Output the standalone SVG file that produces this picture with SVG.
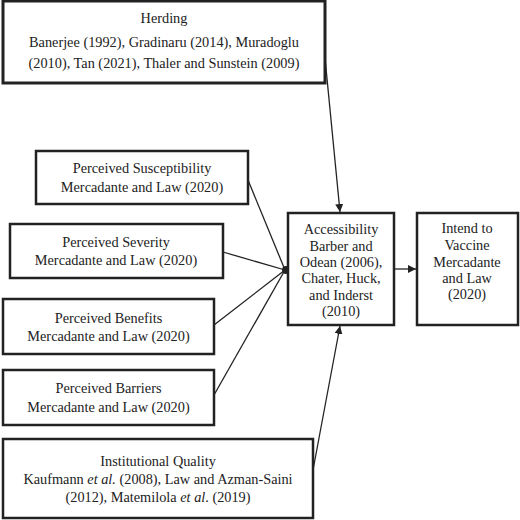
<svg xmlns="http://www.w3.org/2000/svg" width="520" height="520" viewBox="0 0 520 520">
<style>
.box{fill:#fff;stroke:#222;stroke-width:2.5}
text{font-size:14.3px;fill:#222;text-anchor:middle}
.ln{stroke:#222;stroke-width:1.3;fill:none}
</style>
<defs>
<marker id="ah" viewBox="0 0 10 10" refX="10" refY="5" markerWidth="8" markerHeight="8" markerUnits="userSpaceOnUse" orient="auto">
<path d="M0,0 L10,5 L0,10 z" fill="#222"/>
</marker>
</defs>
<rect width="520" height="520" fill="#fff"/>
<g id="connectors">
<line class="ln" x1="325" y1="58" x2="340" y2="212" marker-end="url(#ah)"/>
<line class="ln" x1="248" y1="180" x2="285" y2="270"/>
<line class="ln" x1="223" y1="252" x2="285" y2="270"/>
<line class="ln" x1="214" y1="325" x2="285" y2="270"/>
<line class="ln" x1="214" y1="395" x2="285" y2="270"/>
<circle cx="286" cy="270" r="4" fill="#222"/>
<line class="ln" x1="395" y1="269" x2="416" y2="269" marker-end="url(#ah)"/>
<line class="ln" x1="313" y1="470" x2="340" y2="326" marker-end="url(#ah)"/>
</g>
<g font-family="'Liberation Serif', 'Times New Roman', 'DejaVu Serif', serif">
<g id="herding">
<rect class="box" x="3" y="1" width="322" height="82" style="stroke-width:3"/>
<text x="164" y="23">Herding</text>
<text x="164" y="47">Banerjee (1992), Gradinaru (2014), Muradoglu</text>
<text x="164" y="68">(2010), Tan (2021), Thaler and Sunstein (2009)</text>
</g>
<g id="susceptibility">
<rect class="box" x="36" y="151" width="212" height="53"/>
<text x="142" y="173">Perceived Susceptibility</text>
<text x="142" y="192">Mercadante and Law (2020)</text>
</g>
<g id="severity">
<rect class="box" x="10" y="224" width="213" height="54"/>
<text x="116" y="247">Perceived Severity</text>
<text x="116" y="265">Mercadante and Law (2020)</text>
</g>
<g id="benefits">
<rect class="box" x="3" y="299" width="211" height="55"/>
<text x="108.5" y="323">Perceived Benefits</text>
<text x="108.5" y="341">Mercadante and Law (2020)</text>
</g>
<g id="barriers">
<rect class="box" x="3" y="370" width="211" height="55"/>
<text x="108.5" y="393">Perceived Barriers</text>
<text x="108.5" y="412">Mercadante and Law (2020)</text>
</g>
<g id="institutional">
<rect class="box" x="3" y="439" width="310" height="79"/>
<text x="158" y="466">Institutional Quality</text>
<text x="158" y="484">Kaufmann <tspan font-style="italic">et al.</tspan> (2008), Law and Azman-Saini</text>
<text x="158" y="502">(2012), Matemilola <tspan font-style="italic">et al</tspan>. (2019)</text>
</g>
<g id="accessibility">
<rect class="box" x="288" y="213" width="106" height="112"/>
<text x="341" y="234">Accessibility</text>
<text x="341" y="251">Barber and</text>
<text x="341" y="267">Odean (2006),</text>
<text x="341" y="283">Chater, Huck,</text>
<text x="341" y="300">and Inderst</text>
<text x="341" y="316">(2010)</text>
</g>
<g id="intend">
<rect class="box" x="417" y="213" width="101" height="112"/>
<text x="467" y="233">Intend to</text>
<text x="467" y="250">Vaccine</text>
<text x="467" y="267">Mercadante</text>
<text x="467" y="283">and Law</text>
<text x="467" y="299">(2020)</text>
</g>
</g>
</svg>
